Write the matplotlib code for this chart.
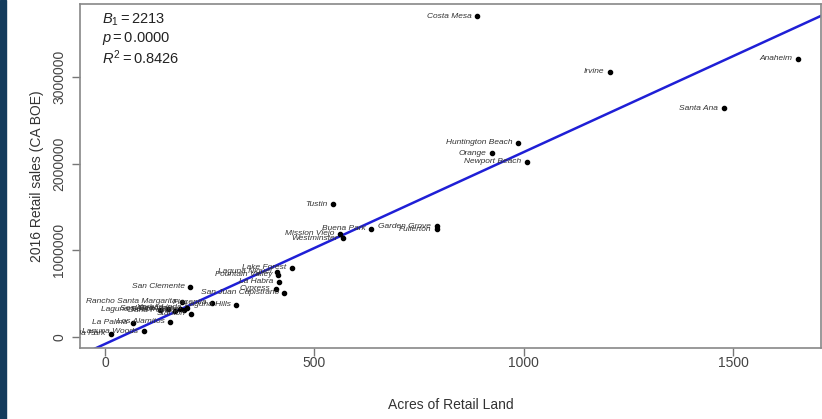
import numpy as np
import matplotlib
matplotlib.use("Agg")
import matplotlib.pyplot as plt
from matplotlib.patches import Rectangle

plt.rcParams["font.family"] = ["Liberation Sans", "DejaVu Sans"]
plt.rcParams["mathtext.fontset"] = "custom"
plt.rcParams["mathtext.rm"] = "Liberation Sans"
plt.rcParams["mathtext.it"] = "Liberation Sans:italic"

# Orange County cities: retail land (acres) vs 2016 retail sales
cities = [
    "Costa Mesa", "Irvine", "Anaheim", "Santa Ana", "Huntington Beach",
    "Orange", "Newport Beach", "Tustin", "Buena Park", "Garden Grove",
    "Fullerton", "Mission Viejo", "Westminster", "Lake Forest",
    "Laguna Niguel", "Fountain Valley", "La Habra", "Cypress",
    "San Juan Capistrano", "San Clemente", "Rancho Santa Margarita",
    "Placentia", "Laguna Hills", "Laguna Beach", "Seal Beach", "Dana Point",
    "Aliso Viejo", "Brea", "Yorba Linda", "Stanton", "Los Alamitos",
    "La Palma", "Laguna Woods", "Villa Park",
]
acres = [
    888, 1206, 1655, 1478, 986,
    923, 1007, 545, 636, 792,
    792, 560, 569, 447,
    411, 414, 416, 407,
    428, 203, 184,
    256, 313, 132, 151, 167,
    179, 189, 196, 206, 155,
    67, 93, 14,
]
sales = [
    3700000, 3060000, 3210000, 2640000, 2240000,
    2120000, 2020000, 1530000, 1250000, 1280000,
    1240000, 1190000, 1140000, 800000,
    750000, 717000, 636000, 555000,
    509000, 578000, 405000,
    393000, 370000, 312000, 324000, 301000,
    324000, 312000, 335000, 266000, 173000,
    162000, 69000, 35000,
]

slope = 2213
intercept = -80000
p_value = 0.0000
r_squared = 0.8426

fig = plt.figure(figsize=(8.22, 4.19), dpi=100)
fig.patches.append(Rectangle((0, 0), 6 / 822, 1, transform=fig.transFigure,
                             color="#143b5c", zorder=-1))
ax = fig.add_axes([80 / 822, 1 - 348 / 419, 741 / 822, 344 / 419])

ax.scatter(acres, sales, s=9, color="black", zorder=3)
for name, x, y in zip(cities, acres, sales):
    ax.annotate(name, (x, y), xytext=(-4, 0), textcoords="offset points",
                ha="right", va="center", fontsize=6, style="italic",
                color="#333333", clip_on=True, annotation_clip=True)

ax.set_xlim(-60, 1710)
ax.set_ylim(-127000, 3841000)
xs = np.array(ax.get_xlim())
ax.plot(xs, intercept + slope * xs, color="#1f1fd6", lw=1.8, zorder=2)

ax.text(0.03, 0.955, r"$B_1 = %d$" % slope, transform=ax.transAxes,
        fontsize=10.5, color="#222222", va="center")
ax.text(0.03, 0.90, r"$p = %.4f$" % p_value, transform=ax.transAxes,
        fontsize=10.5, color="#222222", va="center")
ax.text(0.03, 0.845, r"$R^2 = %.4f$" % r_squared, transform=ax.transAxes,
        fontsize=10.5, color="#222222", va="center")

ax.set_xticks([0, 500, 1000, 1500])
ax.set_yticks([0, 1000000, 2000000, 3000000])
ax.set_yticklabels(["0", "1000000", "2000000", "3000000"], rotation=90,
                   va="center")
ax.tick_params(axis="both", length=6, width=1, color="#777777",
               labelcolor="#444444", labelsize=10)
ax.tick_params(axis="y", pad=4)
ax.tick_params(axis="x", pad=0)
for side in ax.spines.values():
    side.set_color("#888888")
    side.set_linewidth(1.2)

ax.set_xlabel("Acres of Retail Land", fontsize=10, color="#333333",
              labelpad=20)
ax.set_ylabel("2016 Retail sales (CA BOE)", fontsize=10, color="#333333",
              labelpad=6)

fig.savefig("out.png", dpi=100)
